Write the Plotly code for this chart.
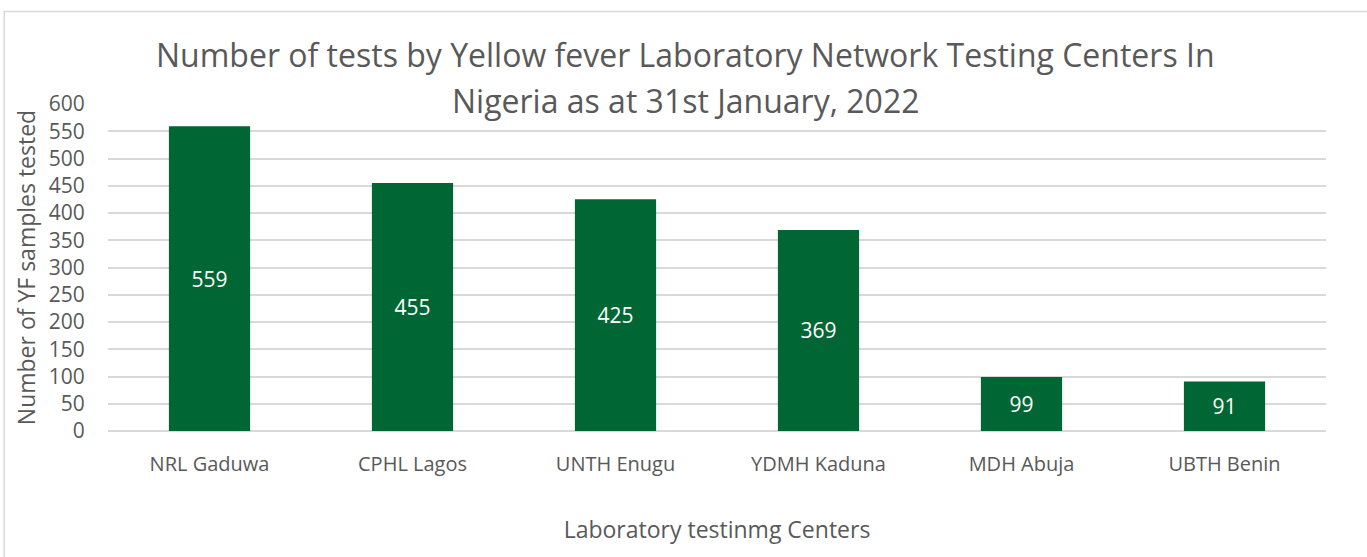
import plotly.graph_objects as go

# --- data ---
centers = ["NRL Gaduwa", "CPHL Lagos", "UNTH Enugu", "YDMH Kaduna", "MDH Abuja", "UBTH Benin"]
tests = [559, 455, 425, 369, 99, 91]
y_ticks = [0, 50, 100, 150, 200, 250, 300, 350, 400, 450, 500, 550, 600]

title_lines = [
    "Number of tests by Yellow fever Laboratory Network Testing Centers In",
    "Nigeria as at 31st January, 2022",
]

FONT = "Open Sans"
GREY = "#595959"
BAR = "#006633"

fig = go.Figure()

fig.add_trace(
    go.Bar(
        x=centers,
        y=tests,
        width=0.4,
        marker=dict(color=BAR, line=dict(width=0)),
        text=[str(v) for v in tests],
        textposition="inside",
        insidetextanchor="middle",
        textfont=dict(family=FONT, size=21, color="white"),
        hoverinfo="x+y",
    )
)

# border around the chart area (runs off right/bottom like the source)
fig.add_shape(
    type="rect", xref="paper", yref="paper",
    x0=-0.0852, x1=1.2, y0=-1.0, y1=1.2826,
    line=dict(color="#d9d9d9", width=1.5), fillcolor="rgba(0,0,0,0)",
    layer="below",
)

for i, line in enumerate(title_lines):
    fig.add_annotation(
        text=line, xref="paper", yref="paper",
        x=0.4745, y=1.150 - i * 0.1407,
        xanchor="center", yanchor="middle", showarrow=False,
        font=dict(family=FONT, size=32, color=GREY),
    )

fig.update_layout(
    width=1367, height=557,
    margin=dict(l=108, r=41, t=104, b=126),
    paper_bgcolor="white", plot_bgcolor="white",
    showlegend=False,
    font=dict(family=FONT, color=GREY),
    xaxis=dict(
        title=dict(text="Laboratory testinmg Centers", font=dict(size=23, color=GREY), standoff=45),
        tickfont=dict(size=20, color=GREY),
        ticks="outside", ticklen=15, tickcolor="rgba(0,0,0,0)",
        showline=False, showgrid=False, automargin=False,
    ),
    yaxis=dict(
        title=dict(text="Number of YF samples tested", font=dict(size=23, color=GREY), standoff=6),
        range=[0, 600],
        tickvals=y_ticks,
        tickfont=dict(size=21, color=GREY),
        ticks="outside", ticklen=18, tickcolor="rgba(0,0,0,0)",
        showgrid=True, gridcolor="#d9d9d9", gridwidth=1.5,
        zeroline=True, zerolinecolor="#d9d9d9", zerolinewidth=1.5,
        automargin=False,
    ),
)

fig.write_html(
    "out.html",
    config={"displayModeBar": False},
    post_script="document.body.style.margin='0';document.body.style.overflow='hidden';",
)
